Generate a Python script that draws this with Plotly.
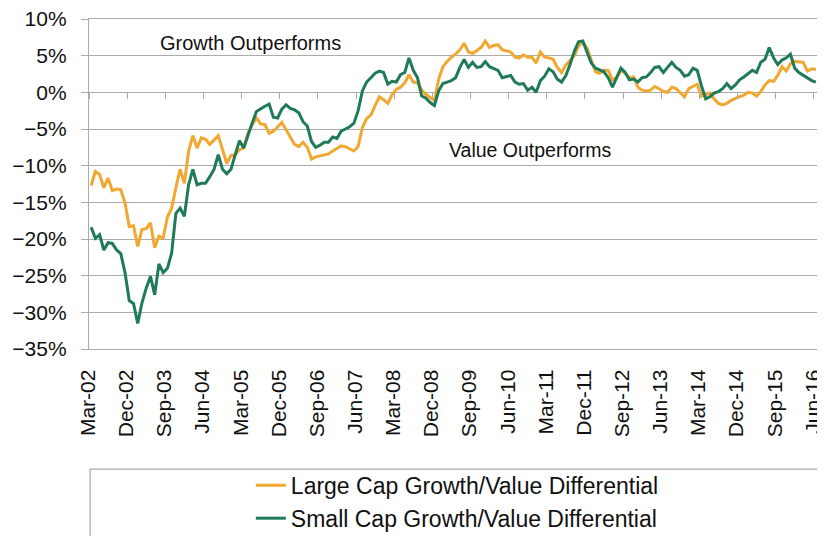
import plotly.graph_objects as go

tick_labels = ["Mar-02", "Dec-02", "Sep-03", "Jun-04", "Mar-05", "Dec-05", "Sep-06",
               "Jun-07", "Mar-08", "Dec-08", "Sep-09", "Jun-10", "Mar-11", "Dec-11",
               "Sep-12", "Jun-13", "Mar-14", "Dec-14", "Sep-15", "Jun-16"]

# Monthly values, Mar-02 .. Jun-16 (172 months), in percent
large_cap = [
    -12.7, -10.8, -11.2, -13.0, -11.7, -13.4, -13.2, -13.3, -15.1, -18.3,
    -18.2, -21.0, -18.7, -18.6, -17.8, -21.2, -19.6, -19.9, -17.0, -15.8,
    -13.0, -10.5, -12.4, -8.0, -5.9, -7.6, -6.2, -6.4, -7.1, -6.5,
    -5.9, -7.8, -9.7, -8.6, -8.5, -7.8, -7.6, -5.6, -4.4, -3.5,
    -4.3, -4.4, -5.6, -5.3, -4.7, -4.1, -5.1, -6.2, -7.1, -7.4,
    -6.8, -7.5, -9.1, -8.8, -8.7, -8.6, -8.4, -8.0, -7.6, -7.3,
    -7.4, -7.7, -8.0, -7.4, -4.8, -3.6, -3.1, -1.8, -0.6, -1.0,
    -1.5, -0.3, 0.4, 0.7, 1.3, 2.4, 1.4, 1.3, 0.3, -0.3,
    -0.7, -1.1, 1.8, 3.5, 4.2, 4.8, 5.2, 5.8, 6.7, 5.5,
    5.3, 5.7, 6.1, 7.0, 6.1, 6.4, 6.5, 5.8, 5.6, 5.5,
    4.8, 4.7, 5.1, 4.8, 4.8, 4.0, 5.5, 4.8, 4.7, 4.5,
    3.4, 2.7, 3.7, 4.3, 5.0, 6.3, 6.8, 6.0, 4.4, 2.8,
    2.6, 3.0, 3.0, 1.7, 2.0, 3.0, 2.6, 2.0, 2.1, 0.7,
    0.3, 0.2, 0.3, 0.8, 0.5, 0.1, 0.0, 0.7, 0.5, 0.0,
    -0.6, 0.5, 0.8, 1.1, -0.5, -0.3, -0.1, -0.9, -1.5, -1.7,
    -1.5, -1.1, -0.8, -0.6, -0.4, 0.0, -0.1, -0.5, 0.1, 1.0,
    1.6, 1.5, 2.3, 3.5, 2.9, 3.9, 4.2, 4.2, 4.1, 2.9,
    3.2, 3.1,
]

small_cap = [
    -18.4, -19.9, -19.4, -21.5, -20.5, -20.6, -21.5, -22.0, -24.6, -28.4,
    -28.8, -31.5, -28.7, -26.7, -25.1, -27.6, -23.4, -24.6, -24.0, -21.9,
    -16.5, -15.8, -16.9, -12.6, -10.5, -12.6, -12.4, -12.4, -11.5, -10.5,
    -8.5, -10.5, -11.1, -10.5, -8.5, -6.6, -7.6, -5.8, -4.2, -2.6,
    -2.2, -1.9, -1.6, -3.4, -3.5, -2.3, -1.7, -2.2, -2.4, -2.8,
    -4.0, -4.6, -6.7, -7.5, -7.2, -6.8, -6.8, -6.1, -6.3, -5.3,
    -5.0, -4.7, -4.2, -2.5, 0.2, 1.4, 2.0, 2.6, 2.9, 2.7,
    1.1, 1.5, 1.4, 2.4, 2.7, 4.7, 3.0, 2.0, -0.5, -0.8,
    -1.4, -1.8, 0.2, 1.2, 1.4, 1.6, 2.0, 3.4, 4.5, 3.4,
    4.1, 3.4, 3.5, 4.2, 3.5, 3.2, 3.0, 2.0, 2.1, 2.3,
    1.4, 1.1, 1.2, 0.3, 0.7, 0.0, 1.6, 2.2, 3.2, 2.8,
    1.8, 1.4, 2.3, 3.8, 5.6, 6.9, 7.0, 5.6, 4.0, 3.3,
    3.0, 2.8, 2.0, 0.7, 2.0, 3.3, 2.7, 1.7, 1.8, 1.4,
    2.0, 2.1, 2.7, 3.4, 3.5, 2.7, 3.4, 4.1, 3.4, 3.0,
    2.2, 2.4, 3.3, 3.0, 0.9, -0.9, -0.6, -0.1, 0.1, 0.5,
    1.2, 0.5, 1.0, 1.7, 2.1, 2.6, 3.0, 2.7, 4.1, 4.5,
    6.1, 4.7, 3.8, 4.4, 4.7, 5.2, 3.3, 2.7, 2.3, 2.0,
    1.6, 1.4,
]

months = list(range(len(large_cap)))
tick_positions = months[::9]
boundary_ticks = [m - 0.5 for m in tick_positions]

ORANGE = "#F0A830"
GREEN = "#1F7A57"
GRID = "#ABABAB"
FONT = "Liberation Sans, Arial, sans-serif"
TXT = "#111111"

fig = go.Figure()
fig.add_trace(go.Scatter(x=months, y=large_cap, mode="lines",
                         name="Large Cap Growth/Value Differential",
                         line=dict(color=ORANGE, width=3)))
fig.add_trace(go.Scatter(x=months, y=small_cap, mode="lines",
                         name="Small Cap Growth/Value Differential",
                         line=dict(color=GREEN, width=3)))
# invisible trace to drive the tick-mark axis at 0%
fig.add_trace(go.Scatter(x=[months[0]], y=[0], xaxis="x2", mode="lines",
                         showlegend=False, hoverinfo="skip",
                         line=dict(color="rgba(0,0,0,0)")))

# the page body has an 8px margin, so the figure is 8px smaller than the window
fig.update_layout(
    width=817, height=528,
    margin=dict(l=81, r=7, t=11, b=187, autoexpand=False),
    paper_bgcolor="white", plot_bgcolor="white",
    font=dict(family=FONT, color=TXT, size=20),
    showlegend=True,
    legend=dict(x=0.222, xanchor="left", y=-0.348, yanchor="top",
                font=dict(size=23, family=FONT, color=TXT),
                bgcolor="rgba(0,0,0,0)", borderwidth=0,
                tracegroupgap=0),
    xaxis=dict(range=[-0.5, len(months) - 0.5], tickmode="array",
               tickvals=tick_positions, ticktext=tick_labels,
               tickangle=-90, ticks="", showgrid=False, zeroline=False,
               showline=True, linecolor=GRID, linewidth=1.3, mirror=True,
               ticklabelstandoff=11, ticklabelshift=-3, automargin=False,
               ticklabeloverflow="allow",
               tickfont=dict(size=21, family=FONT, color=TXT)),
    xaxis2=dict(range=[-0.5, len(months) - 0.5], overlaying="x",
                anchor="free", position=35 / 45, side="bottom",
                tickmode="array", tickvals=boundary_ticks,
                ticks="outside", ticklen=6, tickwidth=1.3, tickcolor=GRID,
                showticklabels=False, showgrid=False, zeroline=False,
                showline=False, automargin=False),
    yaxis=dict(range=[-35, 10], dtick=5, tick0=0, ticksuffix="%",
               showgrid=True, gridcolor=GRID, gridwidth=1.3,
               zeroline=False, ticks="outside", ticklen=7,
               tickcolor=GRID, tickwidth=1.3,
               showline=True, linecolor=GRID, linewidth=1.3, mirror=True,
               ticklabelstandoff=10, automargin=False,
               ticklabeloverflow="allow",
               tickfont=dict(size=21, family=FONT, color=TXT)),
    annotations=[
        dict(text="Growth Outperforms", xref="paper", yref="y",
             x=0.222, y=6.7, xanchor="center", yanchor="middle",
             showarrow=False,
             font=dict(size=20, family=FONT, color=TXT)),
        dict(text="Value Outperforms", xref="paper", yref="y",
             x=0.605, y=-7.9, xanchor="center", yanchor="middle",
             showarrow=False,
             font=dict(size=19.5, family=FONT, color=TXT)),
    ],
    shapes=[
        dict(type="rect", xref="paper", yref="paper",
             x0=0.0015, x1=1.003, y0=-0.364, y1=-0.62,
             line=dict(color=GRID, width=1.3), fillcolor="rgba(0,0,0,0)"),
    ],
)

fig.write_html("out.html")
